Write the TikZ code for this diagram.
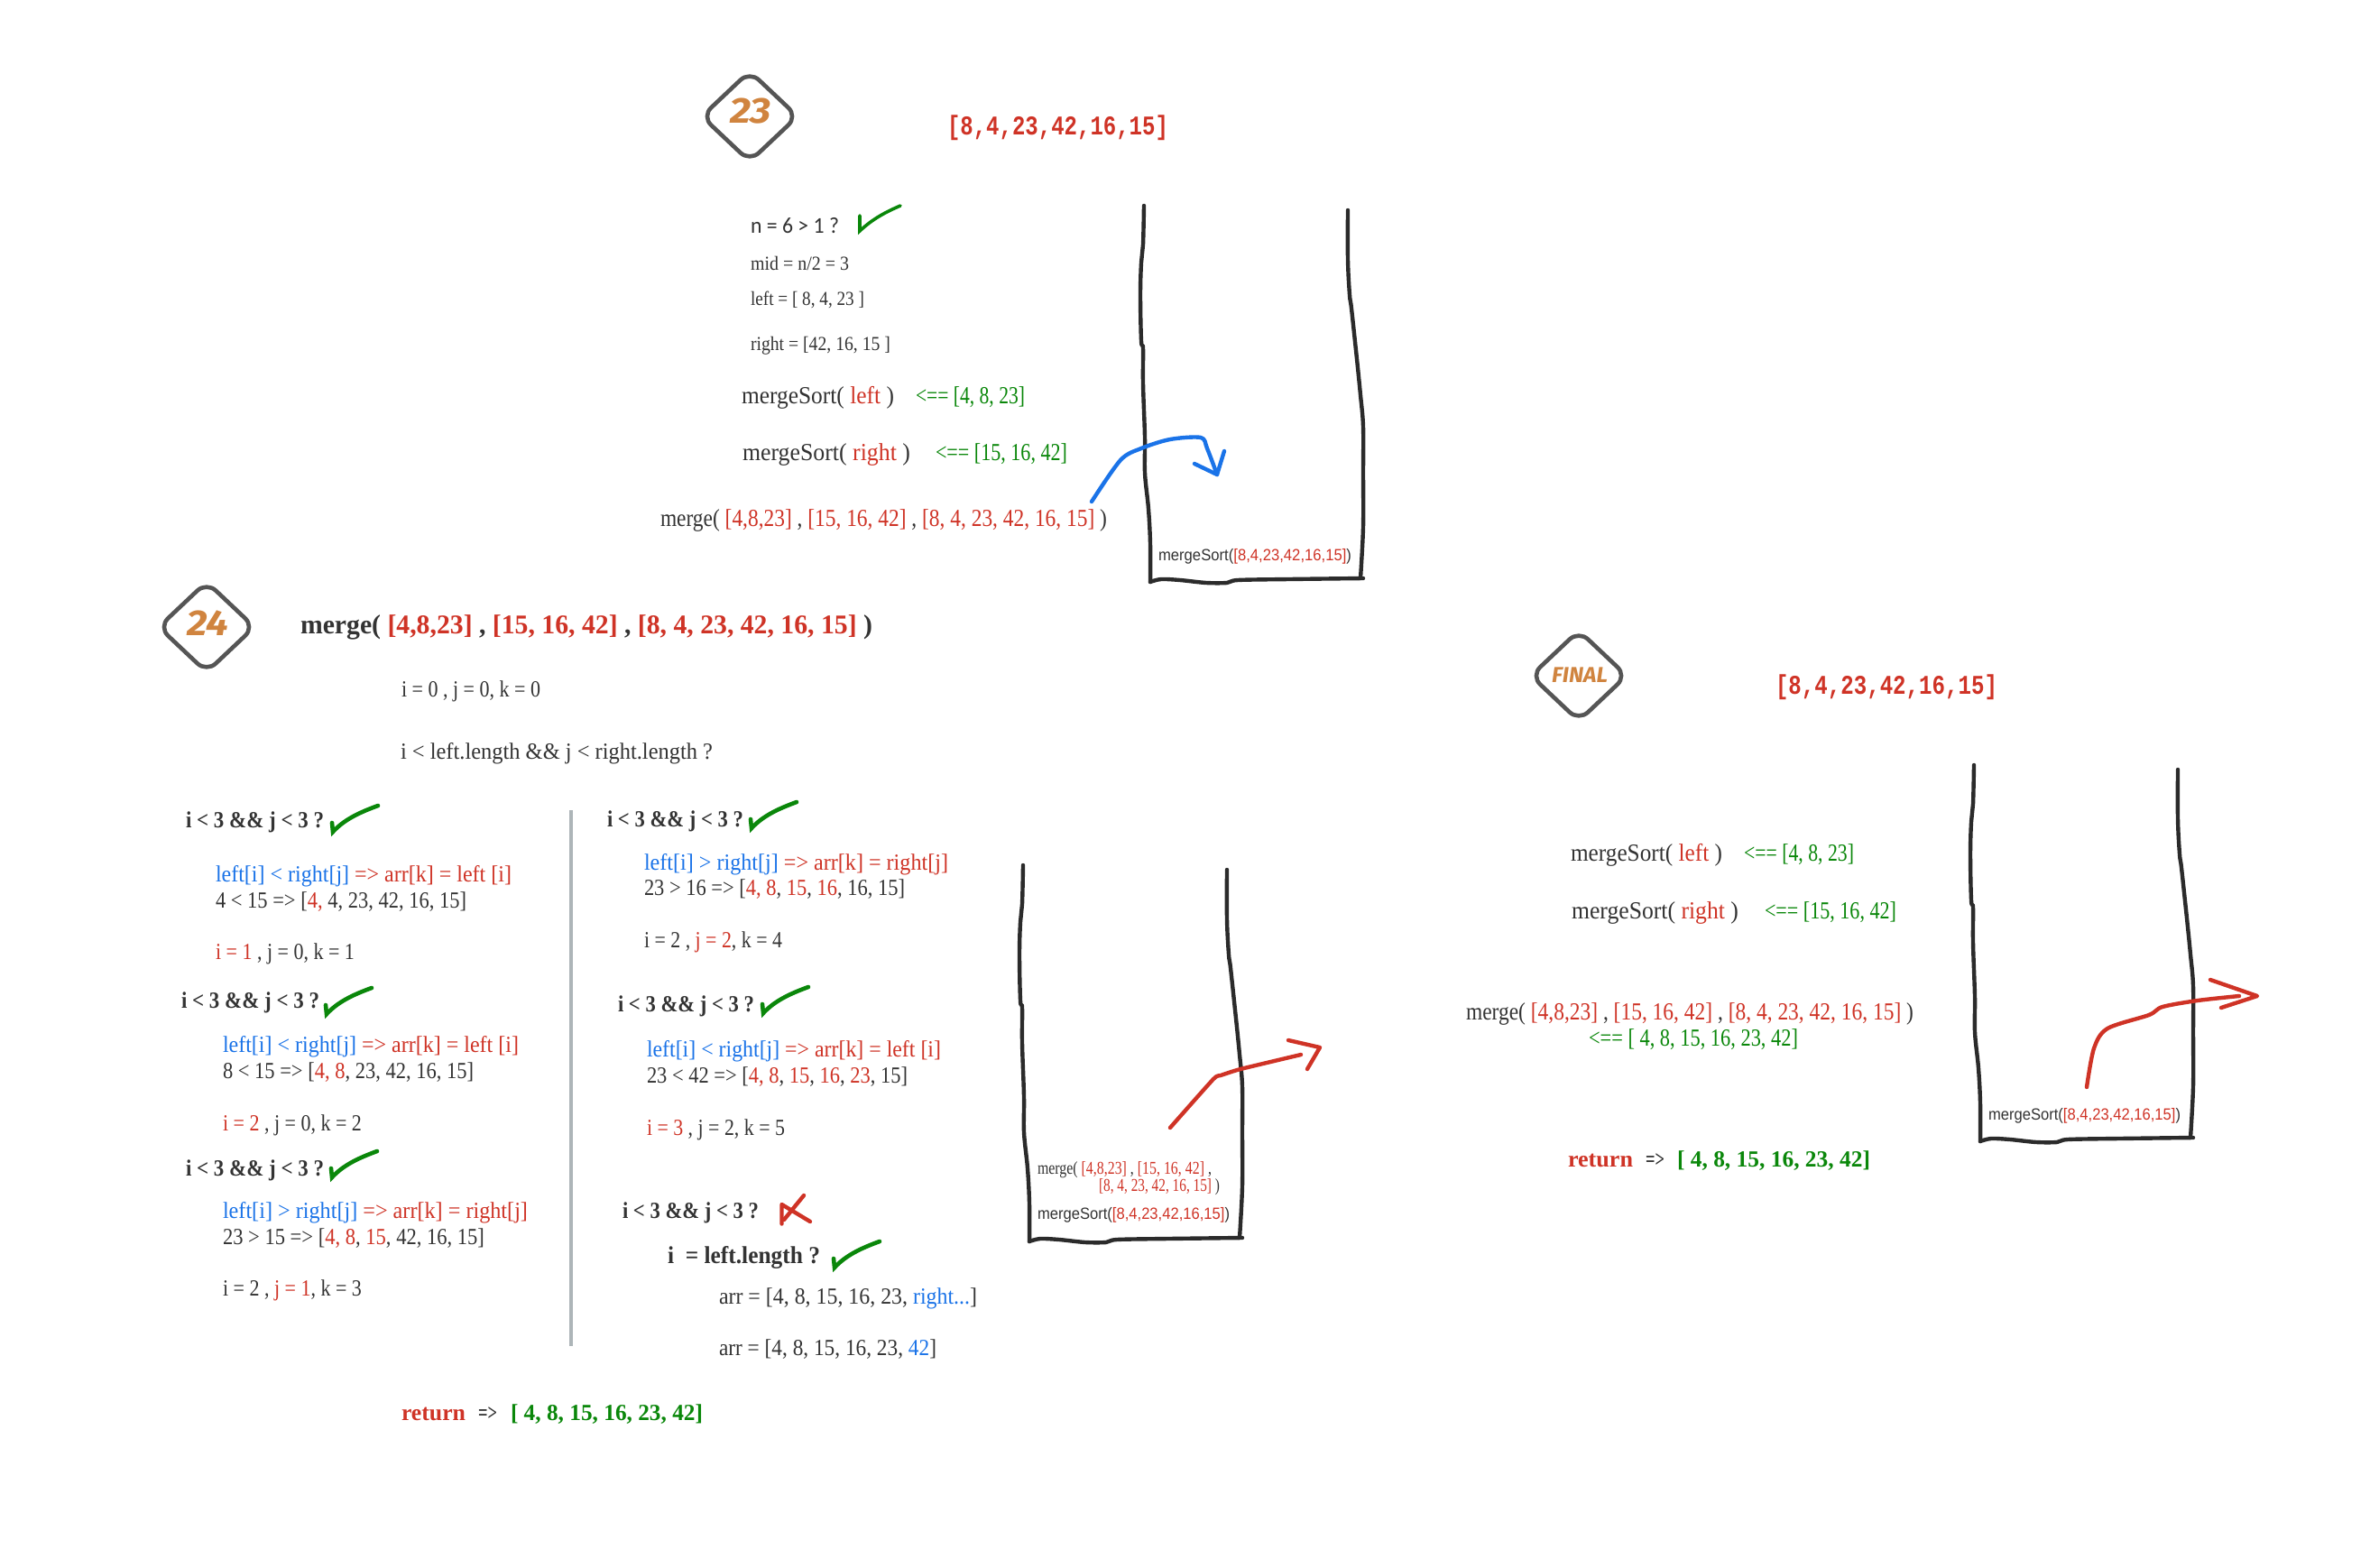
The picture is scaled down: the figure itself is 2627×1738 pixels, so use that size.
\documentclass[tikz,border=0pt]{standalone}
\usepackage{fontspec}
\usepackage{graphicx}
\setmainfont{Liberation Serif}
\newfontfamily\monofam{Liberation Mono}
\newfontfamily\sansfam{Liberation Sans}
\newfontfamily\calfam{Carlito}
\newfontfamily\handfam{Fira Sans}
\definecolor{ink}{HTML}{333333}
\definecolor{hred}{HTML}{CF3326}
\definecolor{hblue}{HTML}{1A73E8}
\definecolor{hgreen}{HTML}{0A870A}
\definecolor{horange}{HTML}{D0843F}
\definecolor{hgray}{HTML}{555555}
\definecolor{rulegray}{HTML}{ADB5B8}
\definecolor{stroke}{HTML}{2B2B2B}
\newlength\pxu \setlength\pxu{0.5pt}
\newcommand\Rd[1]{\textcolor{hred}{#1}}
\newcommand\Bl[1]{\textcolor{hblue}{#1}}
\newcommand\Gn[1]{\textcolor{hgreen}{#1}}
\newcommand\bodyf{\fontsize{12.8}{13}\selectfont}
\newcommand\callf{\fontsize{13.6}{14}\selectfont}
\newcommand\smallf{\calfam\fontsize{12.5}{13}\selectfont}
\newcommand\minif{\fontsize{11}{12}\selectfont}
\newcommand\tinyf{\fontsize{10}{11}\selectfont}
\newcommand\headf{\bfseries\fontsize{15}{15}\selectfont}
\newcommand\condf{\bfseries\fontsize{12.8}{13}\selectfont}
\newcommand\arrf{\monofam\bfseries\fontsize{15}{15}\selectfont}
\newcommand\lblf{\sansfam\fontsize{9}{10}\selectfont}
% x, y (baseline), width in pixels, font, text
\newcommand\tx[5]{\node[lbl] at (#1,#2) {\resizebox{#3\pxu}{\height}{#4\textcolor{ink}{#5}}};}
\newcommand\chk[2]{\draw[tick,shift={(#1,#2)}] (-1,-10) -- (0,0) .. controls (12,-13) and (28,-21) .. (50,-29);}
\newcommand\stackbox[2]{\begin{scope}[shift={(#1,#2)}]
 \draw[hand] plot[smooth,tension=0.6] coordinates {(0,0) (-1,43) (-3,63) (-4,99) (-3,150) (-1,158) (-1,197) (1,257) (1,296) (5,336) (7,375) (7,417)};
 \draw[hand] plot[smooth,tension=0.6] coordinates {(226,5) (226,60) (228,99) (230,114) (236,170) (240,210) (243,245) (243,296) (243,356) (240,413)};
 \draw[hand] plot[smooth,tension=0.5] coordinates {(7,417) (19,414) (40,415) (69,418) (92,418) (104,415) (161,414) (243,413)};
\end{scope}}
\newcommand\badge[5]{\draw[badgeline] (#1-53,#2) -- (#1,#2-50) -- (#1+53,#2) -- (#1,#2+50) -- cycle;
 \node[lbl,text=horange] at (#3,#4) {#5};}
\tikzset{
 x=0.5pt,y=-0.5pt,
 lbl/.style={anchor=base west,inner sep=0pt,outer sep=0pt},
 hand/.style={draw=stroke,line width=2.2pt,line cap=round,line join=round},
 tick/.style={draw=hgreen,line width=2.3pt,line cap=round,line join=miter},
 redpen/.style={draw=hred,line width=2.2pt,line cap=round,line join=round},
 bluepen/.style={draw=hblue,line width=2.2pt,line cap=round,line join=round},
 badgeline/.style={draw=hgray,line width=2.3pt,rounded corners=7pt,line join=round},
}
\begin{document}
\begin{tikzpicture}
\fill[white] (0,0) rectangle (2627,1738);
\useasboundingbox (0,0) rectangle (2627,1738);

% ---------- panel 23
\badge{831}{129}{809}{137}{\resizebox{46\pxu}{\height}{\handfam\bfseries\itshape\fontsize{20}{20}\selectfont 23}}
\tx{1050}{150}{245}{\arrf}{\Rd{[8,4,23,42,16,15]}}
\tx{832}{259}{98}{\smallf}{n = 6 > 1 ?}
\draw[tick,line width=1.8pt] (953,239) -- (953,256) .. controls (968,242) and (982,235) .. (998,228);
\tx{832}{300}{109}{\minif}{mid = n/2 = 3}
\tx{832}{339}{126}{\minif}{left = [ 8, 4, 23 ]}
\tx{832}{388}{155}{\minif}{right = [42, 16, 15 ]}
\tx{822}{447}{169}{\callf}{mergeSort( \Rd{left} )}
\tx{1015}{447}{121}{\callf}{\Gn{<== [4, 8, 23]}}
\tx{823}{510}{186}{\callf}{mergeSort( \Rd{right} )}
\tx{1037}{510}{146}{\callf}{\Gn{<== [15, 16, 42]}}
\tx{732}{583}{495}{\callf}{merge( \Rd{[4,8,23]} , \Rd{[15, 16, 42]} , \Rd{[8, 4, 23, 42, 16, 15]} )}
\stackbox{1268}{228}
\tx{1284}{621}{214}{\lblf}{mergeSort(\Rd{[8,4,23,42,16,15]})}
\draw[bluepen] plot[smooth,tension=0.5] coordinates {(1210,556) (1242,510) (1265,497) (1297,487) (1331,485) (1338,497) (1349,526)};
\draw[bluepen] (1324,514) -- (1349,526) -- (1357,500);

% ---------- panel 24
\badge{229}{695}{207}{704}{\resizebox{46\pxu}{\height}{\handfam\bfseries\itshape\fontsize{20}{20}\selectfont 24}}
\tx{333}{702}{634}{\headf}{merge( \Rd{[4,8,23]} , \Rd{[15, 16, 42]} , \Rd{[8, 4, 23, 42, 16, 15]} )}
\tx{445}{772}{154}{\bodyf}{i = 0 , j = 0, k = 0}
\tx{444}{841}{346}{\bodyf}{i < left.length \&\& j < right.length ?}

\tx{206}{917}{153}{\condf}{i < 3 \&\& j < 3 ?}
\chk{369}{922}
\tx{239}{977}{328}{\bodyf}{\Bl{left[i] < right[j]} \Rd{=> arr[k] = left [i]}}
\tx{239}{1006}{278}{\bodyf}{4 < 15 => [\Rd{4,} 4, 23, 42, 16, 15]}
\tx{239}{1063}{154}{\bodyf}{\Rd{i = 1} , j = 0, k = 1}

\tx{201}{1117}{153}{\condf}{i < 3 \&\& j < 3 ?}
\chk{362}{1124}
\tx{247}{1166}{328}{\bodyf}{\Bl{left[i] < right[j]} \Rd{=> arr[k] = left [i]}}
\tx{247}{1195}{278}{\bodyf}{8 < 15 => [\Rd{4, 8}, 23, 42, 16, 15]}
\tx{247}{1253}{154}{\bodyf}{\Rd{i = 2} , j = 0, k = 2}

\tx{206}{1303}{153}{\condf}{i < 3 \&\& j < 3 ?}
\chk{368}{1305}
\tx{247}{1350}{338}{\bodyf}{\Bl{left[i] > right[j]} \Rd{=> arr[k] = right[j]}}
\tx{247}{1379}{290}{\bodyf}{23 > 15 => [\Rd{4, 8}, \Rd{15}, 42, 16, 15]}
\tx{247}{1436}{154}{\bodyf}{i = 2 , \Rd{j = 1}, k = 3}

\draw[draw=rulegray,line width=1.8pt] (633,898) -- (633,1492);

\tx{673}{916}{151}{\condf}{i < 3 \&\& j < 3 ?}
\chk{833}{918}
\tx{714}{964}{337}{\bodyf}{\Bl{left[i] > right[j]} \Rd{=> arr[k] = right[j]}}
\tx{714}{992}{289}{\bodyf}{23 > 16 => [\Rd{4, 8}, \Rd{15}, \Rd{16}, 16, 15]}
\tx{714}{1050}{153}{\bodyf}{i = 2 , \Rd{j = 2}, k = 4}

\tx{685}{1121}{151}{\condf}{i < 3 \&\& j < 3 ?}
\chk{846}{1123}
\tx{717}{1171}{326}{\bodyf}{\Bl{left[i] < right[j]} \Rd{=> arr[k] = left [i]}}
\tx{717}{1200}{289}{\bodyf}{23 < 42 => [\Rd{4, 8}, \Rd{15}, \Rd{16}, \Rd{23}, 15]}
\tx{717}{1258}{153}{\bodyf}{\Rd{i = 3} , j = 2, k = 5}

\tx{690}{1350}{151}{\condf}{i < 3 \&\& j < 3 ?}
\draw[redpen] (866.5,1356.5) -- (866.5,1335) -- (898,1354);
\draw[redpen] (891,1325) -- (869,1352);
\tx{740}{1400}{169}{\fontsize{13.5}{14}\selectfont\bfseries}{i \ = left.length ?}
\chk{925}{1405}
\tx{797}{1445}{286}{\bodyf}{arr = [4, 8, 15, 16, 23, \Bl{right...}]}
\tx{797}{1502}{241}{\bodyf}{arr = [4, 8, 15, 16, 23, \Bl{42}]}

\tx{445}{1574}{71}{\condf}{\Rd{return}}
\tx{530}{1574}{21}{\condf}{=>}
\tx{566}{1574}{213}{\condf}{\Gn{[ 4, 8, 15, 16, 23, 42]}}

\stackbox{1134}{959}
\tx{1150}{1301}{193}{\tinyf}{merge( \Rd{[4,8,23]} , \Rd{[15, 16, 42]} ,}
\tx{1218}{1320}{134}{\tinyf}{\Rd{[8, 4, 23, 42, 16, 15]} )}
\tx{1150}{1351}{213}{\lblf}{mergeSort(\Rd{[8,4,23,42,16,15]})}
\draw[redpen] plot[smooth,tension=0.3] coordinates {(1297,1250) (1345,1196) (1353,1192) (1375,1185) (1442,1169)};
\draw[redpen] (1428,1153) -- (1463,1161) -- (1449,1185);

% ---------- panel final
\badge{1750}{749}{1720}{756}{\resizebox{62\pxu}{\height}{\handfam\bfseries\itshape\fontsize{12}{12}\selectfont FINAL}}
\tx{1968}{769}{246}{\arrf}{\Rd{[8,4,23,42,16,15]}}
\tx{1741}{954}{168}{\callf}{mergeSort( \Rd{left} )}
\tx{1933}{954}{122}{\callf}{\Gn{<== [4, 8, 23]}}
\tx{1742}{1018}{185}{\callf}{mergeSort( \Rd{right} )}
\tx{1956}{1018}{146}{\callf}{\Gn{<== [15, 16, 42]}}
\tx{1625}{1130}{496}{\callf}{merge( \Rd{[4,8,23]} , \Rd{[15, 16, 42]} , \Rd{[8, 4, 23, 42, 16, 15]} )}
\tx{1761}{1159}{232}{\callf}{\Gn{<== [ 4, 8, 15, 16, 23, 42]}}
\tx{1738}{1293}{72}{\condf}{\Rd{return}}
\tx{1824}{1293}{21}{\condf}{=>}
\tx{1859}{1293}{214}{\condf}{\Gn{[ 4, 8, 15, 16, 23, 42]}}
\stackbox{2188}{848}
\tx{2204}{1241}{213}{\lblf}{mergeSort(\Rd{[8,4,23,42,16,15]})}
\draw[redpen] plot[smooth,tension=0.5] coordinates {(2313,1205) (2321,1162) (2336,1140) (2382,1125) (2397,1116) (2436,1109) (2482,1104)};
\draw[redpen] (2450,1086) -- (2502,1104) -- (2462,1117);
\end{tikzpicture}
\end{document}
